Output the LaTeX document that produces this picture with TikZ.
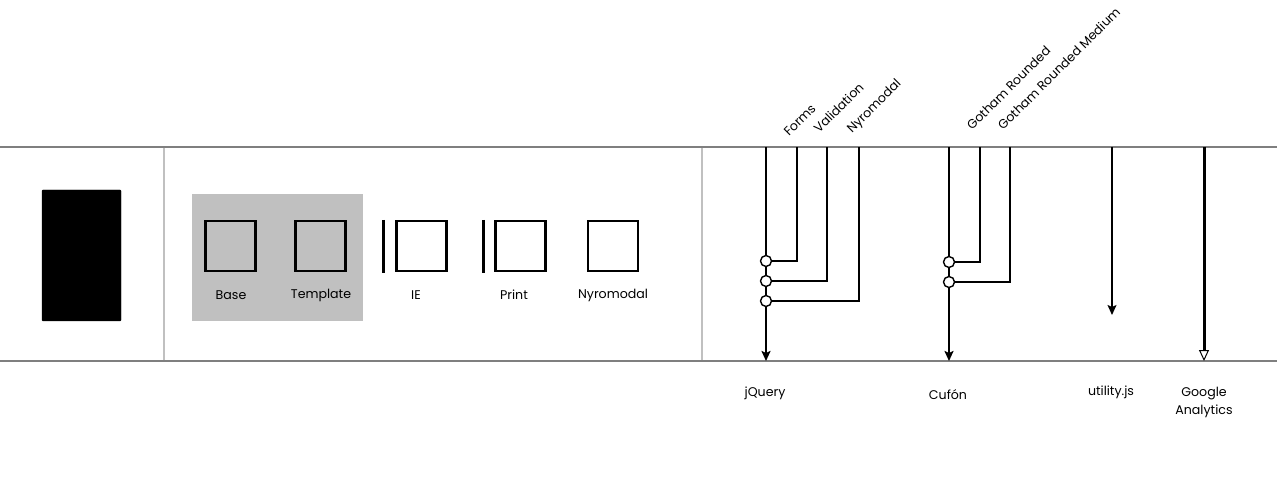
\documentclass[tikz,border=0pt]{standalone}
\usepackage{fontspec}
\setmainfont{Poppins}
\usetikzlibrary{arrows.meta,positioning}
\definecolor{rulegray}{HTML}{7F7F7F}
\definecolor{panelgray}{HTML}{C0C0C0}
\tikzset{
  rule/.style={draw=rulegray, line width=1.6pt},
  divider/.style={draw=panelgray, line width=1.6pt},
  sheet/.style={draw=black, line width=2.8pt, minimum size=50pt, inner sep=0pt},
  bar/.style={line width=2.8pt},
  lbl/.style={font=\fontsize{12.6}{18}\selectfont, inner sep=0pt},
  tag/.style={font=\fontsize{12.6}{15}\selectfont, rotate=45, anchor=base west, inner sep=0pt},
  lib/.style={line width=2.2pt, -{Stealth[length=10pt,width=9pt,inset=2pt]}},
  branch/.style={line width=1.4pt},
  joint/.style={circle, draw, line width=1.4pt, fill=white, minimum size=11pt, inner sep=0pt}
}
\begin{document}
\begin{tikzpicture}[x=1pt,y=-1pt]
\useasboundingbox (0,0) rectangle (1277,478);
% frame
\draw[rule] (0,147)--(1277,147);
\draw[rule] (0,361)--(1277,361);
\draw[divider] (164,148)--(164,360);
\draw[divider] (702,148)--(702,360);
% page
\filldraw[rounded corners=1pt] (42,190) rectangle (121,321);
% stylesheets
\fill[panelgray] (192,194) rectangle (363,321);
\node[sheet] (base) at (230.5,246) {};
\node[sheet] (template) at (320.5,246) {};
\node[sheet] (ie) at (421.5,246) {};
\node[sheet] (print) at (520.5,246) {};
\node[sheet] (nyrocss) at (613,246) {};
\draw[bar] (383.5,220)--(383.5,273);
\draw[bar] (483.5,220)--(483.5,273);
\node[lbl] at (231,295) {Base};
\node[lbl] at (321,295) {Template};
\node[lbl] at (416,295) {IE};
\node[lbl] at (514,295) {Print};
\node[lbl] at (613,295) {Nyromodal};
% jQuery
\coordinate (jqtop) at (766,147);
\coordinate (jqend) at (766,361);
\coordinate (formstop) at (797,147);
\coordinate (validtop) at (827,147);
\coordinate (nyrotop) at (859,147);
\draw[lib] (jqtop)--(jqend);
\node[joint] (forms) at (766,261) {};
\node[joint] (valid) at (766,281) {};
\node[joint] (nyro) at (766,301) {};
\draw[branch] (forms.east) -| (formstop);
\draw[branch] (valid.east) -| (validtop);
\draw[branch] (nyro.east) -| (nyrotop);
\node[tag] at (789,137) {Forms};
\node[tag] at (819,134) {Validation};
\node[tag] at (852,134) {Nyromodal};
\node[lbl] (jquery) at (765,393) {jQuery};
% Cufon
\coordinate (cftop) at (949,147);
\coordinate (cfend) at (949,361);
\coordinate (gothtop) at (980,147);
\coordinate (gothmtop) at (1010,147);
\draw[lib] (cftop)--(cfend);
\node[joint] (goth) at (949,262) {};
\node[joint] (gothm) at (949,282) {};
\draw[branch] (goth.east) -| (gothtop);
\draw[branch] (gothm.east) -| (gothmtop);
\node[tag] at (972,131) {Gotham Rounded};
\node[tag] at (1003,131) {Gotham Rounded Medium};
\node[lbl] (cufon) at (948,395) {Cufón};
% utility
\coordinate (utiltop) at (1112,147);
\coordinate (utilend) at (1112,315);
\draw[line width=1.4pt, -{Stealth[length=10pt,width=9pt,inset=2pt]}] (utiltop)--(utilend);
\node[lbl] (utility) at (1111,392) {utility.js};
% analytics
\coordinate (gatop) at (1204,147);
\coordinate (gaend) at (1204,361);
\draw[line width=3pt, -{Triangle[open, length=11pt, width=10pt, line width=1pt]}] (gatop)--(gaend);
\node[lbl, align=center] (ga) at (1204,402) {Google\\Analytics};
\end{tikzpicture}
\end{document}
